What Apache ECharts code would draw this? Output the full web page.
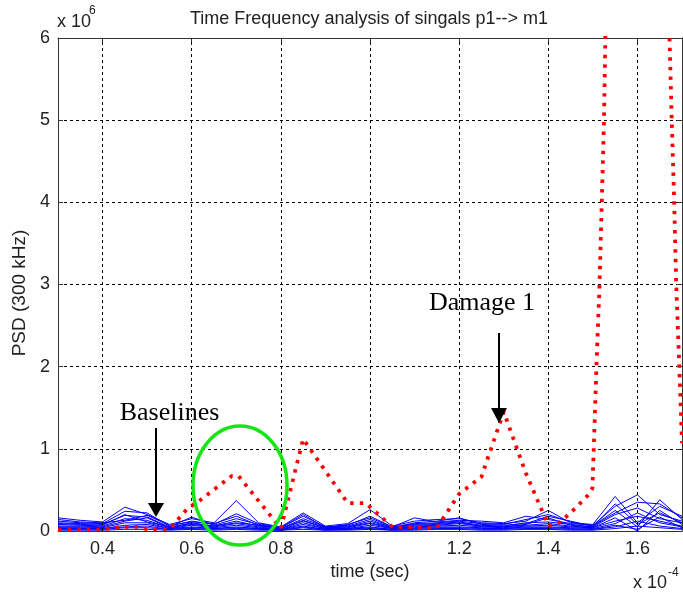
<!DOCTYPE html>
<html>
<head>
<meta charset="utf-8">
<script src="https://cdn.jsdelivr.net/npm/echarts@6/dist/echarts.min.js"></script>
<style>
  html, body { margin: 0; padding: 0; background: #fff; }
  #chart { width: 683px; height: 598px; }
</style>
</head>
<body>
<div id="chart"></div>
<script>
// Axis ticks (time in units of 1e-4 s, PSD in units of 1e6)
const timeTicks = [0.4, 0.6, 0.8, 1.0, 1.2, 1.4, 1.6];
const psdTicks = [0, 1, 2, 3, 4, 5, 6];

// Sample times shared by the baseline records
const baselineTime = [0.30, 0.35, 0.40, 0.45, 0.50, 0.55, 0.60, 0.65, 0.70, 0.75,
                      0.80, 0.85, 0.90, 0.95, 1.00, 1.05, 1.10, 1.15, 1.20, 1.25,
                      1.30, 1.35, 1.40, 1.45, 1.50, 1.55, 1.60, 1.65, 1.70];

// Baseline PSD records (x 1e6)
const baseline1  = [0.16, 0.13, 0.11, 0.29, 0.20, 0.08, 0.15, 0.10, 0.37, 0.10, 0.05, 0.22, 0.06, 0.09, 0.26, 0.06, 0.12, 0.14, 0.15, 0.10, 0.09, 0.12, 0.25, 0.10, 0.08, 0.42, 0.10, 0.30, 0.18];
const baseline2  = [0.12, 0.10, 0.09, 0.24, 0.22, 0.06, 0.12, 0.08, 0.21, 0.09, 0.04, 0.18, 0.05, 0.07, 0.18, 0.05, 0.16, 0.11, 0.13, 0.12, 0.10, 0.18, 0.14, 0.09, 0.07, 0.30, 0.44, 0.20, 0.12];
const baseline3  = [0.10, 0.09, 0.08, 0.19, 0.17, 0.05, 0.17, 0.07, 0.15, 0.08, 0.03, 0.15, 0.05, 0.06, 0.14, 0.04, 0.10, 0.12, 0.16, 0.08, 0.07, 0.09, 0.18, 0.12, 0.06, 0.25, 0.05, 0.38, 0.14];
const baseline4  = [0.08, 0.07, 0.06, 0.15, 0.13, 0.04, 0.10, 0.06, 0.12, 0.06, 0.03, 0.12, 0.04, 0.05, 0.12, 0.04, 0.08, 0.09, 0.11, 0.07, 0.06, 0.10, 0.11, 0.08, 0.05, 0.20, 0.28, 0.15, 0.10];
const baseline5  = [0.06, 0.06, 0.05, 0.12, 0.16, 0.04, 0.08, 0.05, 0.09, 0.05, 0.02, 0.10, 0.03, 0.04, 0.09, 0.03, 0.06, 0.07, 0.09, 0.06, 0.05, 0.07, 0.09, 0.06, 0.04, 0.16, 0.00, 0.25, 0.08];
const baseline6  = [0.05, 0.05, 0.04, 0.10, 0.10, 0.03, 0.07, 0.04, 0.07, 0.04, 0.02, 0.08, 0.03, 0.03, 0.07, 0.03, 0.05, 0.06, 0.07, 0.05, 0.04, 0.06, 0.07, 0.05, 0.04, 0.12, 0.18, 0.12, 0.06];
const baseline7  = [0.04, 0.04, 0.03, 0.07, 0.08, 0.03, 0.05, 0.03, 0.05, 0.03, 0.02, 0.06, 0.02, 0.03, 0.05, 0.02, 0.04, 0.05, 0.05, 0.04, 0.03, 0.05, 0.05, 0.04, 0.03, 0.09, 0.22, 0.10, 0.05];
const baseline8  = [0.03, 0.03, 0.03, 0.05, 0.06, 0.02, 0.04, 0.03, 0.04, 0.03, 0.01, 0.05, 0.02, 0.02, 0.04, 0.02, 0.03, 0.04, 0.04, 0.03, 0.03, 0.04, 0.04, 0.03, 0.02, 0.07, 0.02, 0.17, 0.04];
const baseline9  = [0.02, 0.02, 0.02, 0.04, 0.04, 0.02, 0.03, 0.02, 0.03, 0.02, 0.01, 0.04, 0.01, 0.02, 0.03, 0.01, 0.02, 0.03, 0.03, 0.02, 0.02, 0.03, 0.03, 0.02, 0.02, 0.05, 0.12, 0.06, 0.03];
const baseline10 = [0.09, 0.08, 0.07, 0.20, 0.11, 0.05, 0.09, 0.06, 0.10, 0.07, 0.03, 0.13, 0.04, 0.05, 0.10, 0.04, 0.07, 0.08, 0.10, 0.06, 0.05, 0.08, 0.16, 0.07, 0.05, 0.33, 0.08, 0.22, 0.10];
const baseline11 = [0.01, 0.01, 0.01, 0.02, 0.02, 0.01, 0.02, 0.01, 0.02, 0.01, 0.01, 0.02, 0.01, 0.01, 0.02, 0.01, 0.01, 0.02, 0.02, 0.01, 0.01, 0.02, 0.02, 0.01, 0.01, 0.03, 0.06, 0.04, 0.02];
const baseline12 = [0.14, 0.11, 0.10, 0.13, 0.19, 0.07, 0.11, 0.09, 0.18, 0.07, 0.04, 0.20, 0.04, 0.08, 0.16, 0.05, 0.09, 0.10, 0.12, 0.09, 0.08, 0.14, 0.20, 0.11, 0.06, 0.22, 0.35, 0.33, 0.16];
const baselines = [baseline1, baseline2, baseline3, baseline4, baseline5, baseline6,
                   baseline7, baseline8, baseline9, baseline10, baseline11, baseline12];

// Damage 1 record: times and PSD (x 1e6); the large burst runs off the top of the axes
const damageTime = [0.30, 0.35, 0.40, 0.44, 0.48, 0.50, 0.55, 0.59, 0.62, 0.69, 0.705,
                    0.80, 0.85, 0.95, 0.99, 1.05, 1.15, 1.20, 1.25, 1.30, 1.35, 1.40,
                    1.42, 1.45, 1.49, 1.499, 1.502, 1.508, 1.515, 1.520, 1.525, 1.528,
                    1.60, 1.672, 1.677, 1.6825, 1.687, 1.694, 1.70];
const damagePsd  = [0.01, 0.01, 0.02, 0.05, 0.05, 0.02, 0.02, 0.27, 0.38, 0.67, 0.67,
                    0.03, 1.12, 0.34, 0.34, 0.05, 0.04, 0.45, 0.66, 1.45, 0.70, 0.07,
                    0.08, 0.22, 0.44, 0.52, 1.0, 2.0, 3.0, 4.0, 5.0, 6.0,
                    30.0, 6.0, 5.0, 4.0, 3.0, 2.0, 1.07];

const SANS = "'Liberation Sans', Arial, sans-serif";
const SERIF = "'Liberation Serif', 'Times New Roman', serif";
const INK = '#222';

const chart = echarts.init(document.getElementById('chart'), null, { renderer: 'canvas' });

const series = [];

// Vertical dashed grid lines at the labelled time ticks
series.push({
  type: 'line',
  data: [],
  z: 1,
  markLine: {
    silent: true,
    symbol: ['none', 'none'],
    label: { show: false },
    lineStyle: { type: [3, 3], color: '#000', width: 1 },
    data: timeTicks.map(v => ({ xAxis: v }))
  }
});

baselines.forEach((vals, i) => {
  series.push({
    name: 'Baseline ' + (i + 1),
    type: 'line',
    data: baselineTime.map((t, k) => [t, vals[k]]),
    showSymbol: false,
    symbol: 'none',
    z: 3,
    lineStyle: { color: '#0000ff', width: 1 }
  });
});

series.push({
  name: 'Damage 1',
  type: 'line',
  data: damageTime.map((t, k) => [t, damagePsd[k]]),
  showSymbol: false,
  symbol: 'none',
  clip: true,
  z: 5,
  lineStyle: { color: '#ff0000', width: 3.8, type: [3.4, 6.2], cap: 'butt' }
});

const option = {
  animation: false,
  backgroundColor: '#fff',
  grid: { left: 58, top: 38, right: 1, bottom: 67, containLabel: false },
  xAxis: [
    {
      type: 'value', position: 'bottom', min: 0.3, max: 1.7,
      axisLine: { show: true, onZero: false, lineStyle: { color: '#333', width: 1 } },
      axisTick: { show: true, inside: true, length: 5, customValues: timeTicks, lineStyle: { color: '#333' } },
      axisLabel: { customValues: timeTicks, fontSize: 18, color: INK, fontFamily: SANS, margin: 9 },
      splitLine: { show: false },
      name: 'time (sec)', nameLocation: 'middle', nameGap: 31,
      nameTextStyle: { fontSize: 18, color: INK, fontFamily: SANS }
    },
    {
      type: 'value', position: 'top', min: 0.3, max: 1.7,
      axisLine: { show: true, onZero: false, lineStyle: { color: '#333', width: 1 } },
      axisTick: { show: true, inside: true, length: 5, customValues: timeTicks, lineStyle: { color: '#333' } },
      axisLabel: { show: false },
      splitLine: { show: false }
    }
  ],
  yAxis: [
    {
      type: 'value', position: 'left', min: 0, max: 6, interval: 1,
      axisLine: { show: true, onZero: false, lineStyle: { color: '#333', width: 1 } },
      axisTick: { show: true, inside: true, length: 5, lineStyle: { color: '#333' } },
      axisLabel: { fontSize: 18, color: INK, fontFamily: SANS, margin: 8,
                   formatter: v => psdTicks.includes(v) ? String(v) : '' },
      splitLine: { show: true, lineStyle: { type: [3, 3], color: '#000', width: 1 } }
    },
    {
      type: 'value', position: 'right', min: 0, max: 6, interval: 1,
      axisLine: { show: true, onZero: false, lineStyle: { color: '#333', width: 1 } },
      axisTick: { show: true, inside: true, length: 5, lineStyle: { color: '#333' } },
      axisLabel: { show: false },
      splitLine: { show: false }
    }
  ],
  series: series,
  graphic: [
    // title
    { type: 'text', x: 369, y: 19, z: 20,
      style: { text: 'Time Frequency analysis of singals p1--> m1', fontSize: 18, fontFamily: SANS,
               fill: INK, align: 'center', verticalAlign: 'middle' } },
    // y-axis exponent
    { type: 'text', x: 57, y: 22.5, z: 20,
      style: { text: 'x 10', fontSize: 18, fontFamily: SANS, fill: INK, align: 'left', verticalAlign: 'middle' } },
    { type: 'text', x: 89, y: 11, z: 20,
      style: { text: '6', fontSize: 12, fontFamily: SANS, fill: INK, align: 'left', verticalAlign: 'middle' } },
    // x-axis exponent
    { type: 'text', x: 633, y: 583.5, z: 20,
      style: { text: 'x 10', fontSize: 18, fontFamily: SANS, fill: INK, align: 'left', verticalAlign: 'middle' } },
    { type: 'text', x: 668, y: 572.5, z: 20,
      style: { text: '-4', fontSize: 12, fontFamily: SANS, fill: INK, align: 'left', verticalAlign: 'middle' } },
    // y-axis name
    { type: 'text', x: 20, y: 293, rotation: Math.PI / 2, z: 20,
      style: { text: 'PSD (300 kHz)', fontSize: 19, fontFamily: SANS, fill: INK,
               align: 'center', verticalAlign: 'middle' } },
    // Baselines annotation
    { type: 'text', x: 169.5, y: 413, z: 20,
      style: { text: 'Baselines', fontSize: 26, fontFamily: SERIF, fill: '#000',
               align: 'center', verticalAlign: 'middle' } },
    { type: 'line', z: 20, shape: { x1: 156, y1: 428, x2: 156, y2: 506 },
      style: { stroke: '#000', lineWidth: 2 } },
    { type: 'polygon', z: 20, shape: { points: [[148, 503], [164, 503], [156, 517]] },
      style: { fill: '#000' } },
    // Damage 1 annotation
    { type: 'text', x: 482, y: 303, z: 20,
      style: { text: 'Damage 1', fontSize: 26, fontFamily: SERIF, fill: '#000',
               align: 'center', verticalAlign: 'middle' } },
    { type: 'line', z: 20, shape: { x1: 499, y1: 333, x2: 499, y2: 411 },
      style: { stroke: '#000', lineWidth: 2 } },
    { type: 'polygon', z: 20, shape: { points: [[491, 408], [507, 408], [499, 423]] },
      style: { fill: '#000' } },
    // highlight ring around the first damage bump
    { type: 'ellipse', z: 20, shape: { cx: 240, cy: 485.5, rx: 47, ry: 59.5 },
      style: { fill: 'none', stroke: '#14e614', lineWidth: 3.5 } }
  ]
};

chart.setOption(option);
</script>
</body>
</html>
